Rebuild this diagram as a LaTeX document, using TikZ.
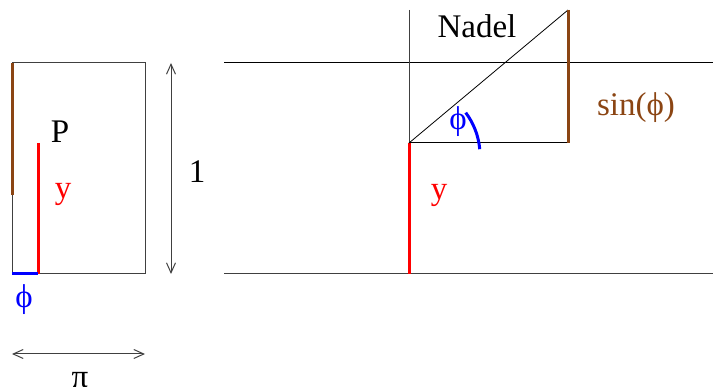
\documentclass[tikz,border=0pt]{standalone}
\usepackage{fontspec}
\setmainfont{Liberation Serif}
\usetikzlibrary{arrows.meta}
\definecolor{brn}{RGB}{139,69,19}
\tikzset{
  thinline/.style={line width=1pt, draw=black!75},
  thickline/.style={line width=3pt},
  lbl/.style={inner sep=0pt, font=\fontsize{33}{37}\selectfont},
  dim/.style={line width=1pt, draw=black!75, {Straight Barb[length=10pt,width=9pt]}-{Straight Barb[length=10pt,width=9pt]}}
}
\begin{document}
\begin{tikzpicture}[x=1pt,y=-1pt]
\useasboundingbox (0,0) rectangle (713,387);
% left rectangle
\coordinate (r1) at (12,63);
\coordinate (r2) at (145,274);
\draw[thinline] (r1) rectangle (r2);
\coordinate (b1) at (12,63);
\coordinate (b2) at (12,195);
\draw[thickline, brn] (b1) -- (b2);
\coordinate (y1) at (38,143);
\coordinate (y2) at (38,274);
\draw[thickline, red] (y1) -- (y2);
\coordinate (p0) at (12,274);
\draw[thickline, blue] (p0) -- (y2);
\node[lbl] (P) at (60,132) {P};
\node[lbl, red] (ylab) at (63,194) {y};
\coordinate (a1) at (171,63);
\coordinate (a2) at (171,274);
\draw[dim] (a1) -- (a2);
\node[lbl] (one) at (197,172) {1};
\node[lbl, blue] (phiL) at (24,300) {ϕ};
\coordinate (h1) at (12,354);
\coordinate (h2) at (145,354);
\draw[dim] (h1) -- (h2);
\node[lbl] (pi) at (80,380) {π};
% right part
\coordinate (l1a) at (224,63);
\coordinate (l1b) at (713,63);
\coordinate (l2a) at (224,274);
\coordinate (l2b) at (713,274);
\draw[thinline, draw=black] (l1a) -- (l1b);
\draw[thinline] (l2a) -- (l2b);
\coordinate (O) at (409,143);
\coordinate (top) at (409,10);
\coordinate (bot) at (409,274);
\coordinate (C) at (568,143);
\coordinate (T) at (568,10);
\draw[thinline] (top) -- (O);
\draw[thickline, red] (O) -- (bot);
\draw[line width=1pt] (O) -- (C);
\draw[line width=0.8pt] (O) -- (T);
\draw[thickline, brn] (T) -- (C);
\draw[thickline, blue] ([shift={(5:71)}]O) arc[start angle=-5, end angle=-37, radius=71];
\node[lbl] (nadel) at (477,26) {Nadel};
\node[lbl, brn] (sin) at (636,108) {sin(ϕ)};
\node[lbl, blue] (phiR) at (458,122) {ϕ};
\node[lbl, red] (yR) at (439,195) {y};
\end{tikzpicture}
\end{document}
